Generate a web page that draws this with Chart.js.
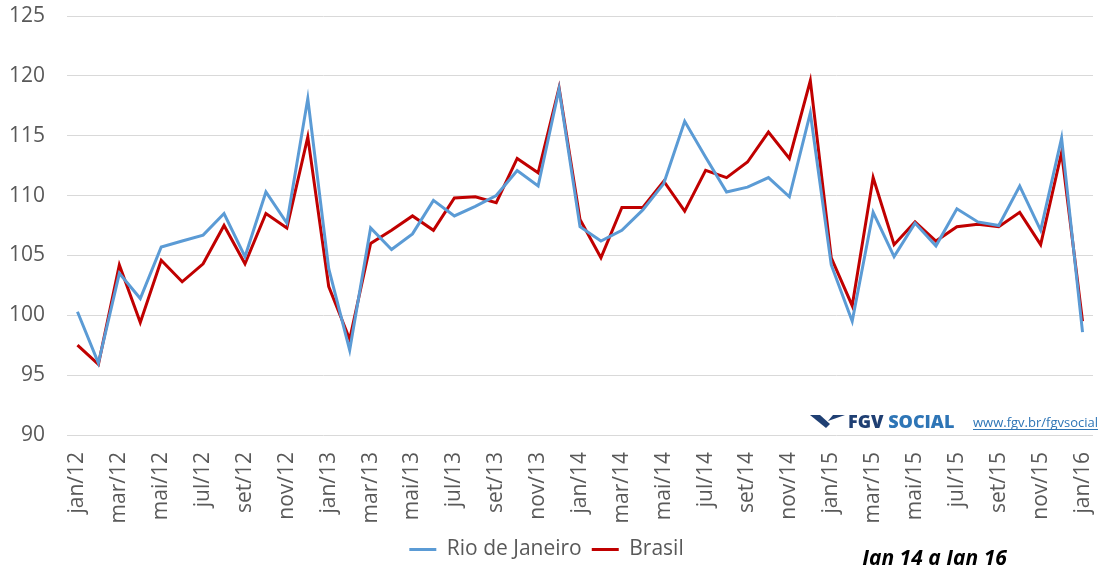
<!DOCTYPE html>
<html>
<head>
<meta charset="utf-8">
<script src="https://cdn.jsdelivr.net/npm/chart.js@4/dist/chart.umd.min.js"></script>
<style>
  body { margin: 0; background: #fff; }
  #wrap { width: 1101px; height: 565px; }
</style>
</head>
<body>
<div id="wrap"><canvas id="chart" width="1101" height="565"></canvas></div>
<script>
const months = ["jan", "fev", "mar", "abr", "mai", "jun", "jul", "ago", "set", "out", "nov", "dez"];
const years = ["12", "13", "14", "15"];

// jan/12 ... jan/16
const labels = [];
years.forEach(y => months.forEach(m => labels.push(m + "/" + y)));
labels.push("jan/16");

const rioDeJaneiro = [
    100.3, 96.0, 103.5, 101.4, 105.7, 106.2, 106.7, 108.5, 104.9, 110.3, 107.7, 118.1,
    103.9, 97.1, 107.3, 105.5, 106.8, 109.6, 108.3, 109.1, 110.0, 112.1, 110.8, 118.9,
    107.4, 106.2, 107.1, 108.8, 111.0, 116.2, 113.2, 110.3, 110.7, 111.5, 109.9, 116.9,
    104.2, 99.5, 108.6, 104.9, 107.7, 105.8, 108.9, 107.8, 107.5, 110.8, 107.1, 114.8,
    98.6
];

const brasil = [
    97.5, 95.9, 104.2, 99.4, 104.6, 102.8, 104.3, 107.5, 104.3, 108.5, 107.3, 114.9,
    102.4, 98.0, 106.0, 107.1, 108.3, 107.1, 109.8, 109.9, 109.4, 113.1, 111.9, 119.0,
    108.0, 104.8, 109.0, 109.0, 111.2, 108.7, 112.1, 111.5, 112.8, 115.3, 113.1, 119.6,
    104.8, 100.8, 111.5, 105.9, 107.8, 106.2, 107.4, 107.6, 107.4, 108.6, 105.9, 113.6,
    99.5
];

const periodText = "Jan 14 a Jan 16";
const brandFgv = "FGV";
const brandSocial = "SOCIAL";
const siteText = "www.fgv.br/fgvsocial";

const fontFamily = "'Open Sans', 'DejaVu Sans', sans-serif";

// logo, site and period caption
const extras = {
    id: "extras",
    afterDraw(chart) {
        const ctx = chart.ctx;
        ctx.save();

        // chevron mark
        ctx.fillStyle = "#1f3f73";
        ctx.beginPath();
        ctx.moveTo(810, 415);
        ctx.lineTo(820, 415);
        ctx.lineTo(830, 424);
        ctx.lineTo(826, 428);
        ctx.closePath();
        ctx.fill();
        ctx.beginPath();
        ctx.moveTo(828, 421);
        ctx.lineTo(833, 415);
        ctx.lineTo(845, 415);
        ctx.closePath();
        ctx.fill();

        ctx.textBaseline = "alphabetic";
        ctx.font = "900 18px 'Open Sans', sans-serif";
        ctx.fillStyle = "#1f3f73";
        ctx.fillText(brandFgv, 848, 428);
        const w = ctx.measureText(brandFgv + " ").width;
        ctx.fillStyle = "#2e75b6";
        ctx.fillText(brandSocial, 848 + w, 428);

        ctx.font = "13px 'Open Sans', sans-serif";
        ctx.fillStyle = "#2e75b6";
        ctx.fillText(siteText, 973, 427);
        const sw = ctx.measureText(siteText).width;
        ctx.fillRect(973, 429, sw, 1);

        ctx.font = "italic bold 21px 'Open Sans', sans-serif";
        ctx.fillStyle = "#000";
        ctx.textBaseline = "top";
        ctx.fillText(periodText, 862, 549);
        ctx.restore();
    }
};

new Chart(document.getElementById("chart"), {
    type: "line",
    data: {
        labels: labels,
        datasets: [{
            label: "Rio de Janeiro",
            data: rioDeJaneiro,
            borderColor: "#5b9bd5",
            backgroundColor: "#5b9bd5",
            borderWidth: 3,
            pointRadius: 0,
            tension: 0
        }, {
            label: "Brasil",
            data: brasil,
            borderColor: "#c00000",
            backgroundColor: "#c00000",
            borderWidth: 3,
            pointRadius: 0,
            tension: 0
        }]
    },
    options: {
        responsive: false,
        animation: false,
        layout: {
            padding: { top: 16, right: 8, bottom: -5, left: 0 }
        },
        scales: {
            x: {
                offset: true,
                grid: { display: false },
                border: { display: false },
                afterFit: (scale) => {
                    scale.height = 94;
                    scale.paddingLeft = 0;
                    scale.paddingRight = 0;
                },
                ticks: {
                    autoSkip: false,
                    maxRotation: 90,
                    minRotation: 90,
                    padding: 9,
                    color: "#595959",
                    font: { family: fontFamily, size: 21 },
                    callback: function (value, index) {
                        return index % 2 === 0 ? this.getLabelForValue(value) : "";
                    }
                }
            },
            y: {
                min: 90,
                max: 125,
                grid: { color: "#d9d9d9", lineWidth: 1, drawTicks: false },
                border: { display: false },
                afterFit: (scale) => {
                    scale.width = 67;
                    scale.paddingTop = 0;
                    scale.paddingBottom = 0;
                },
                ticks: {
                    stepSize: 5,
                    padding: 22,
                    color: "#595959",
                    font: { family: fontFamily, size: 21 }
                }
            }
        },
        plugins: {
            legend: {
                position: "bottom",
                labels: {
                    boxWidth: 27,
                    boxHeight: 3,
                    padding: 10,
                    color: "#595959",
                    font: { family: fontFamily, size: 21 },
                    generateLabels: (chart) =>
                        Chart.defaults.plugins.legend.labels.generateLabels(chart)
                            .map(l => Object.assign(l, { lineWidth: 0 }))
                }
            },
            tooltip: { enabled: false }
        }
    },
    plugins: [extras]
});
</script>
</body>
</html>
